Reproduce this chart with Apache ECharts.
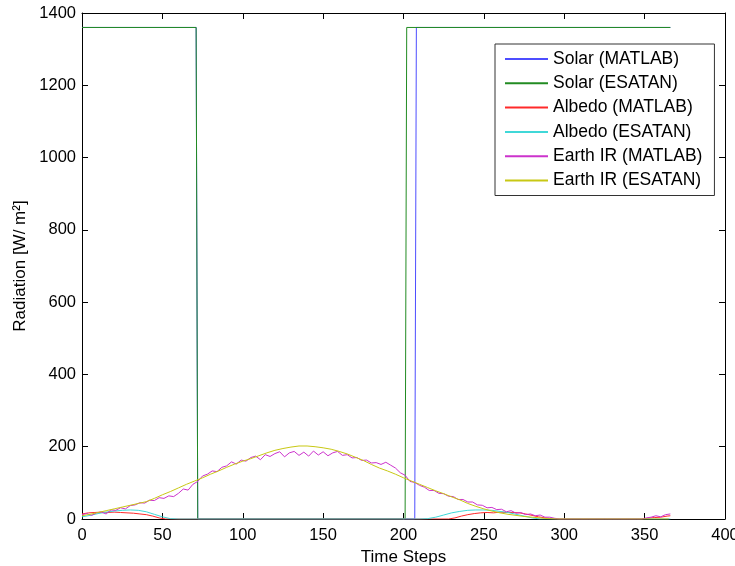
<!DOCTYPE html>
<html>
<head>
<meta charset="utf-8">
<script src="https://cdn.jsdelivr.net/npm/echarts@6/dist/echarts.min.js"></script>
<style>
  html, body { margin: 0; padding: 0; background: #fff; }
  #chart { width: 735px; height: 566px; }
</style>
</head>
<body>
<div id="chart"></div>
<script>
// solar flux: step shape (eclipse between the two jumps)
const solarMatlabSteps = [0, 71, 72, 207, 208, 366];
const solarMatlab      = [1360, 1360, 0, 0, 1360, 1360];
const solarEsatanSteps = [0, 71, 72, 201, 202, 366];
const solarEsatan      = [1360, 1360, 0, 0, 1360, 1360];

// albedo, MATLAB
const albedoMatlabSteps = [0, 4, 8, 12, 16, 20, 24, 28, 32, 36, 40, 44, 48, 52, 100, 200, 228,
  232, 236, 240, 244, 248, 252, 256, 260, 264, 268, 272, 276, 280, 284, 288, 292, 296, 348,
  352, 356, 360, 364, 366];
const albedoMatlab = [14, 17, 18, 19, 18, 19, 18, 17, 16, 14, 12, 8, 3, 0, 0, 0, 0,
  3, 8, 12, 15, 17, 18, 17, 19, 18, 18, 17, 14, 10, 6, 3, 1, 0, 0,
  2, 4, 5, 8, 9];

// albedo, ESATAN
const albedoEsatanSteps = [0, 5, 10, 15, 20, 25, 30, 35, 40, 45, 50, 55, 60, 210,
  215, 220, 225, 230, 235, 240, 245, 250, 255, 260, 265, 270, 275, 280, 285, 366];
const albedoEsatan = [6, 10, 15, 19, 22, 24, 25, 24, 20, 13, 6, 1, 0, 0,
  1, 5, 11, 17, 21, 24, 25, 25, 24, 21, 18, 13, 8, 3, 0, 0];

// earth IR, MATLAB (one value every 3 steps, 0..366)
const irMatlabStep = 3;
const irMatlab = [
  12, 15, 10, 17, 19, 14, 25, 24, 31, 28, 37, 39, 45, 44, 52, 51,
  59, 57, 64, 62, 71, 83, 80, 96, 104, 119, 124, 133, 131, 143, 147, 158,
  152, 163, 160, 170, 174, 164, 178, 173, 181, 186, 172, 183, 187, 176, 185, 174,
  188, 177, 186, 175, 183, 187, 176, 178, 169, 170, 162, 163, 155, 156, 151, 157,
  149, 141, 128, 121, 104, 101, 93, 88, 79, 79, 71, 70, 63, 62, 54, 54,
  47, 47, 39, 38, 31, 32, 26, 27, 20, 23, 16, 18, 12, 14, 9, 11,
  5, 5, 2, 0, 0, 0, 0, 0, 0, 0, 0, 0, 0, 0, 0, 0,
  0, 0, 0, 0, 0, 3, 5, 9, 6, 12, 14
];

// earth IR, ESATAN (every 5 steps, 0..365)
const irEsatanStep = 5;
const irEsatan = [
  9, 13, 18, 23, 28, 33, 38, 43, 48, 57, 67, 76, 86, 96, 105, 114,
  124, 133, 143, 152, 160, 167, 175, 183, 190, 195, 199, 202, 202, 200, 197, 193,
  187, 180, 171, 162, 151, 141, 133, 124, 114, 105, 96, 87, 78, 70, 61, 53,
  43, 35, 28, 22, 17, 13, 10, 7, 5, 3, 1, 0, 0, 0, 0, 0,
  0, 0, 0, 0, 0, 0, 0, 0, 0, 0
];

const xTicks = { min: 0, max: 400, interval: 50 };
const yTicks = { min: 0, max: 1400, interval: 200 };

function pairs(steps, vals) {
  return vals.map((v, i) => [steps[i], v]);
}
function evenPairs(step, vals) {
  return vals.map((v, i) => [i * step, v]);
}

const font = 'Liberation Sans, Arial, sans-serif';
const chart = echarts.init(document.getElementById('chart'));

const lineSeries = (name, data, color) => ({
  name: name,
  type: 'line',
  data: data,
  showSymbol: false,
  symbol: 'none',
  lineStyle: { color: color, width: 1 },
  itemStyle: { color: color },
  animation: false
});

const boxAxis = {
  axisLine: { show: true, onZero: false, lineStyle: { color: '#000', width: 1 } },
  axisTick: { show: true, inside: true, length: 6, lineStyle: { color: '#000' } },
  splitLine: { show: false }
};

chart.setOption({
  animation: false,
  backgroundColor: '#fff',
  grid: { left: 82, right: 10, top: 13, bottom: 47, outerBoundsMode: 'none', containLabel: false },
  legend: {
    orient: 'vertical',
    left: 495,
    top: 44,
    padding: [5, 12, 5, 10],
    itemGap: 4.3,
    itemWidth: 43,
    itemHeight: 2,
    icon: 'rect',
    borderColor: '#333',
    borderWidth: 1,
    backgroundColor: '#fff',
    textStyle: { fontFamily: font, fontSize: 17.5, color: '#000', lineHeight: 20 },
    data: ['Solar (MATLAB)', 'Solar (ESATAN)', 'Albedo (MATLAB)', 'Albedo (ESATAN)',
      'Earth IR (MATLAB)', 'Earth IR (ESATAN)']
  },
  xAxis: [
    Object.assign({}, boxAxis, {
      type: 'value', position: 'bottom',
      min: xTicks.min, max: xTicks.max, interval: xTicks.interval,
      name: 'Time Steps', nameLocation: 'middle', nameGap: 26,
      nameTextStyle: { fontFamily: font, fontSize: 17, color: '#000' },
      axisLabel: { fontFamily: font, fontSize: 16.5, color: '#000', margin: 8 }
    }),
    Object.assign({}, boxAxis, {
      type: 'value', position: 'top',
      min: xTicks.min, max: xTicks.max, interval: xTicks.interval,
      axisLabel: { show: false }
    })
  ],
  yAxis: [
    Object.assign({}, boxAxis, {
      type: 'value', position: 'left',
      min: yTicks.min, max: yTicks.max, interval: yTicks.interval,
      name: 'Radiation [W/ m²]', nameLocation: 'middle', nameGap: 44,
      nameTextStyle: { fontFamily: font, fontSize: 17, color: '#000' },
      axisLabel: { fontFamily: font, fontSize: 16.5, color: '#000', margin: 6,
        formatter: v => String(v) }
    }),
    Object.assign({}, boxAxis, {
      type: 'value', position: 'right',
      min: yTicks.min, max: yTicks.max, interval: yTicks.interval,
      axisLabel: { show: false }
    })
  ],
  series: [
    lineSeries('Solar (MATLAB)', pairs(solarMatlabSteps, solarMatlab), '#4d4dff'),
    lineSeries('Solar (ESATAN)', pairs(solarEsatanSteps, solarEsatan), '#228b22'),
    lineSeries('Albedo (MATLAB)', pairs(albedoMatlabSteps, albedoMatlab), '#ff2a2a'),
    lineSeries('Albedo (ESATAN)', pairs(albedoEsatanSteps, albedoEsatan), '#40d8d8'),
    lineSeries('Earth IR (MATLAB)', evenPairs(irMatlabStep, irMatlab), '#cc33cc'),
    lineSeries('Earth IR (ESATAN)', evenPairs(irEsatanStep, irEsatan), '#c8c814')
  ]
});
</script>
</body>
</html>
